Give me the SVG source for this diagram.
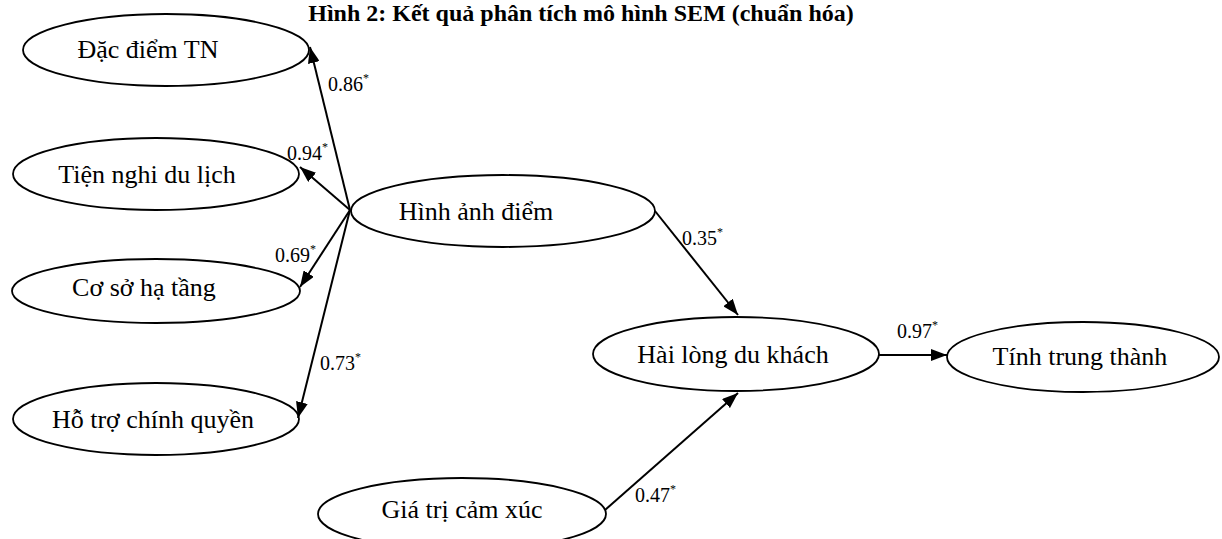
<svg xmlns="http://www.w3.org/2000/svg" width="1222" height="539" viewBox="0 0 1222 539">
<defs>
<style>
.n ellipse{fill:#fff;stroke:#000;stroke-width:1.8}
.n text{font-family:"Liberation Serif","Times New Roman",serif;font-size:26px;fill:#000;text-anchor:middle}
.c line{stroke:#000;stroke-width:2;marker-end:url(#ah)}
.lbl{font-family:"Liberation Serif","Times New Roman",serif;font-size:20px;fill:#000}
.sup{font-size:12px}
.title{font-family:"Liberation Serif","Times New Roman",serif;font-size:24px;font-weight:bold;text-anchor:middle}
</style>
<marker id="ah" markerUnits="userSpaceOnUse" markerWidth="16" markerHeight="12" refX="16" refY="6" orient="auto">
<path d="M0,0 L16,6 L0,12 z" fill="#000"/>
</marker>
</defs>
<rect width="1222" height="539" fill="#fff"/>
<text class="title" x="581" y="21">Hình 2: Kết quả phân tích mô hình SEM (chuẩn hóa)</text>
<g id="dac-diem-tn" class="n"><ellipse cx="166" cy="50" rx="143" ry="36"/><text x="148" y="58">Đặc điểm TN</text></g>
<g id="tien-nghi" class="n"><ellipse cx="156" cy="174" rx="143" ry="36"/><text x="147" y="183">Tiện nghi du lịch</text></g>
<g id="co-so-ha-tang" class="n"><ellipse cx="156" cy="291" rx="144" ry="32"/><text x="144" y="296">Cơ sở hạ tầng</text></g>
<g id="ho-tro" class="n"><ellipse cx="156" cy="419" rx="143" ry="36"/><text x="153" y="428">Hỗ trợ chính quyền</text></g>
<g id="hinh-anh" class="n"><ellipse cx="503" cy="211" rx="152" ry="36"/><text x="476" y="220">Hình ảnh điểm</text></g>
<g id="hai-long" class="n"><ellipse cx="736" cy="354" rx="143" ry="37"/><text x="733" y="363">Hài lòng du khách</text></g>
<g id="trung-thanh" class="n"><ellipse cx="1083" cy="357" rx="136" ry="35"/><text x="1080" y="365">Tính trung thành</text></g>
<g id="gia-tri" class="n"><ellipse cx="462" cy="514" rx="144" ry="36"/><text x="462" y="518">Giá trị cảm xúc</text></g>
<g id="connectors" class="c">
<line x1="350" y1="210" x2="310" y2="47"/>
<line x1="350" y1="210" x2="300" y2="167"/>
<line x1="350" y1="210" x2="300" y2="287"/>
<line x1="350" y1="210" x2="298" y2="418"/>
<line x1="655" y1="211" x2="738" y2="315"/>
<line x1="605" y1="510" x2="738" y2="393"/>
<line x1="879" y1="355" x2="947" y2="355"/>
</g>
<g id="labels">
<text class="lbl" x="328" y="91">0.86<tspan class="sup" dy="-9">*</tspan></text>
<text class="lbl" x="287" y="160">0.94<tspan class="sup" dy="-9">*</tspan></text>
<text class="lbl" x="275" y="262">0.69<tspan class="sup" dy="-9">*</tspan></text>
<text class="lbl" x="320" y="370">0.73<tspan class="sup" dy="-9">*</tspan></text>
<text class="lbl" x="682" y="245">0.35<tspan class="sup" dy="-9">*</tspan></text>
<text class="lbl" x="897" y="338">0.97<tspan class="sup" dy="-9">*</tspan></text>
<text class="lbl" x="635" y="502">0.47<tspan class="sup" dy="-9">*</tspan></text>
</g>
</svg>
